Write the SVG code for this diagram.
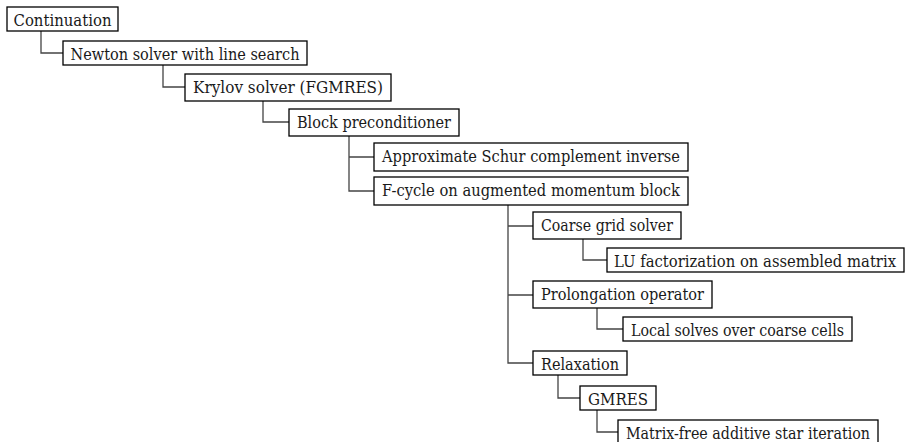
<svg xmlns="http://www.w3.org/2000/svg" width="907" height="442" viewBox="0 0 907 442">
<style>
.box{fill:#fff;stroke:#000;stroke-width:1.3}
.lbl{font-family:'DejaVu Serif','Liberation Serif',serif;font-size:16.8px;fill:#1a1a1a}
.con{fill:none;stroke:#444;stroke-width:1.3}
</style>
<rect width="907" height="442" fill="#fff"/>
<g id="connectors">
<path class="con" d="M41,31 V53 H63"/>
<path class="con" d="M163,65 V87 H185"/>
<path class="con" d="M263,101 V122 H289"/>
<path class="con" d="M349,136 V191 H374 M349,157 H374"/>
<path class="con" d="M508,205 V363 H533 M508,226 H533 M508,295 H533"/>
<path class="con" d="M583,239 V260 H607"/>
<path class="con" d="M597,308 V329 H623"/>
<path class="con" d="M558,375 V398 H580"/>
<path class="con" d="M597,410 V432 H618"/>
</g>
<g id="n1"><rect class="box" x="7" y="7" width="111" height="24"/><text class="lbl" x="13.5" y="25.5" textLength="98" lengthAdjust="spacingAndGlyphs">Continuation</text></g>
<g id="n2"><rect class="box" x="63" y="41" width="244" height="24"/><text class="lbl" x="70.5" y="59.5" textLength="229" lengthAdjust="spacingAndGlyphs">Newton solver with line search</text></g>
<g id="n3"><rect class="box" x="185" y="74" width="206" height="27"/><text class="lbl" x="193" y="92.5" textLength="190" lengthAdjust="spacingAndGlyphs">Krylov solver (FGMRES)</text></g>
<g id="n4"><rect class="box" x="289" y="109" width="170" height="27"/><text class="lbl" x="297" y="127.5" textLength="154" lengthAdjust="spacingAndGlyphs">Block preconditioner</text></g>
<g id="n5"><rect class="box" x="374" y="143" width="314" height="28"/><text class="lbl" x="382" y="161.5" textLength="298" lengthAdjust="spacingAndGlyphs">Approximate Schur complement inverse</text></g>
<g id="n6"><rect class="box" x="374" y="177" width="314" height="28"/><text class="lbl" x="382" y="195.5" textLength="298" lengthAdjust="spacingAndGlyphs">F-cycle on augmented momentum block</text></g>
<g id="n7"><rect class="box" x="533" y="212" width="148" height="27"/><text class="lbl" x="541" y="230.5" textLength="132" lengthAdjust="spacingAndGlyphs">Coarse grid solver</text></g>
<g id="n8"><rect class="box" x="607" y="248" width="297" height="24"/><text class="lbl" x="614" y="266.5" textLength="282" lengthAdjust="spacingAndGlyphs">LU factorization on assembled matrix</text></g>
<g id="n9"><rect class="box" x="533" y="281" width="179" height="27"/><text class="lbl" x="541" y="299.5" textLength="163" lengthAdjust="spacingAndGlyphs">Prolongation operator</text></g>
<g id="n10"><rect class="box" x="623" y="317" width="229" height="24"/><text class="lbl" x="631" y="335.5" textLength="213" lengthAdjust="spacingAndGlyphs">Local solves over coarse cells</text></g>
<g id="n11"><rect class="box" x="533" y="351" width="94" height="24"/><text class="lbl" x="541" y="369.5" textLength="78" lengthAdjust="spacingAndGlyphs">Relaxation</text></g>
<g id="n12"><rect class="box" x="580" y="386" width="76" height="24"/><text class="lbl" x="588" y="404.5" textLength="60" lengthAdjust="spacingAndGlyphs">GMRES</text></g>
<g id="n13"><rect class="box" x="618" y="420" width="260" height="24"/><text class="lbl" x="626" y="438.5" textLength="244" lengthAdjust="spacingAndGlyphs">Matrix-free additive star iteration</text></g>
</svg>
